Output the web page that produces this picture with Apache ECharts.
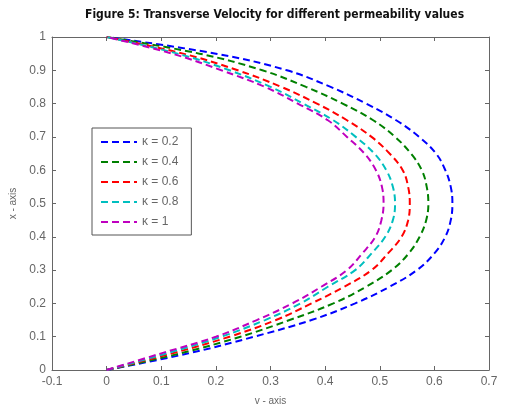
<!DOCTYPE html>
<html><head><meta charset="utf-8">
<script src="https://cdn.jsdelivr.net/npm/echarts@6/dist/echarts.min.js"></script>
<style>html,body{margin:0;padding:0;background:#fff}#c{width:507px;height:411px}</style>
</head><body><div id="c"></div>
<script>
const xPos = [0,0.05,0.1,0.15,0.2,0.25,0.3,0.35,0.4,0.45,0.5,0.55,0.6,0.65,0.7,0.75,0.8,0.85,0.9,0.95,1];
const vK02 = [0,0.150,0.270,0.375,0.455,0.518,0.568,0.600,0.620,0.630,0.633,0.630,0.620,0.603,0.572,0.530,0.475,0.410,0.330,0.200,0];
const vK04 = [0,0.135,0.245,0.335,0.415,0.475,0.522,0.553,0.573,0.585,0.589,0.586,0.577,0.557,0.528,0.488,0.432,0.365,0.285,0.170,0];
const vK06 = [0,0.120,0.225,0.310,0.375,0.435,0.485,0.515,0.540,0.552,0.555,0.552,0.542,0.518,0.485,0.440,0.385,0.320,0.240,0.140,0];
const vK08 = [0,0.110,0.210,0.290,0.355,0.405,0.455,0.485,0.510,0.524,0.528,0.524,0.512,0.490,0.456,0.415,0.360,0.300,0.225,0.130,0];
const vK10 = [0,0.100,0.200,0.275,0.340,0.393,0.440,0.468,0.492,0.503,0.507,0.504,0.493,0.472,0.440,0.405,0.350,0.290,0.210,0.120,0];
const names = ['κ = 0.2','κ = 0.4','κ = 0.6','κ = 0.8','κ = 1'];
const colors = ['#0000ff','#008000','#ff0000','#00bfbf','#bf00bf'];
const vals = [vK02,vK04,vK06,vK08,vK10];

const chart = echarts.init(document.getElementById('c'));
const axisCol = '#666';
const lbl = {color:'#666', fontSize:12, fontFamily:'Liberation Sans'};
const series = vals.map((v,i)=>({
  name:names[i], type:'line', symbol:'none', showSymbol:false, smooth:0.4,
  data: v.map((vv,j)=>[vv,xPos[j]]),
  lineStyle:{color:colors[i], width:2, type:[7,4]},
  itemStyle:{color:colors[i]}
}));
chart.setOption({
  animation:false,
  title:{text:'Figure 5: Transverse Velocity for different permeability values', left:80, top:4,
    textStyle:{fontFamily:'DejaVu Sans Condensed', fontWeight:'bold', fontSize:12, color:'#111'}},
  grid:{left:52, right:18, top:37, bottom:36},
  legend:{orient:'vertical', left:92, top:128, backgroundColor:'#fff',
    borderColor:'#555', borderWidth:1, padding:[8,13,7,8], itemGap:8, itemWidth:36, itemHeight:12,
    itemStyle:{opacity:0},
    textStyle:{color:'#666', fontSize:12, fontFamily:'Liberation Sans'},
    data:names},
  xAxis:[{type:'value', min:-0.1, max:0.7, interval:0.1, name:'v - axis', nameLocation:'middle', nameGap:26,
    nameTextStyle:{color:'#666', fontSize:10, fontFamily:'Liberation Sans'},
    axisLine:{show:true, onZero:false, lineStyle:{color:axisCol}},
    axisTick:{inside:true, length:4, lineStyle:{color:axisCol}},
    axisLabel:Object.assign({margin:6, formatter:v=>String(Math.round(v*10)/10)}, lbl),
    splitLine:{show:false}},
   {type:'value', position:'top', min:-0.1, max:0.7, interval:0.1,
    axisLine:{show:true, onZero:false, lineStyle:{color:axisCol}},
    axisTick:{inside:true, length:4, lineStyle:{color:axisCol}},
    axisLabel:{show:false}, splitLine:{show:false}}],
  yAxis:[{type:'value', min:0, max:1, interval:0.1, name:'x - axis', nameLocation:'middle', nameGap:31,
    nameTextStyle:{color:'#666', fontSize:10, fontFamily:'Liberation Sans'},
    axisLine:{show:true, onZero:false, lineStyle:{color:axisCol}},
    axisTick:{inside:true, length:4, lineStyle:{color:axisCol}},
    axisLabel:Object.assign({margin:6, formatter:v=>String(Math.round(v*10)/10)}, lbl),
    splitLine:{show:false}},
   {type:'value', position:'right', min:0, max:1, interval:0.1,
    axisLine:{show:true, onZero:false, lineStyle:{color:axisCol}},
    axisTick:{inside:true, length:4, lineStyle:{color:axisCol}},
    axisLabel:{show:false}, splitLine:{show:false}}],
  series: series
});
</script></body></html>
